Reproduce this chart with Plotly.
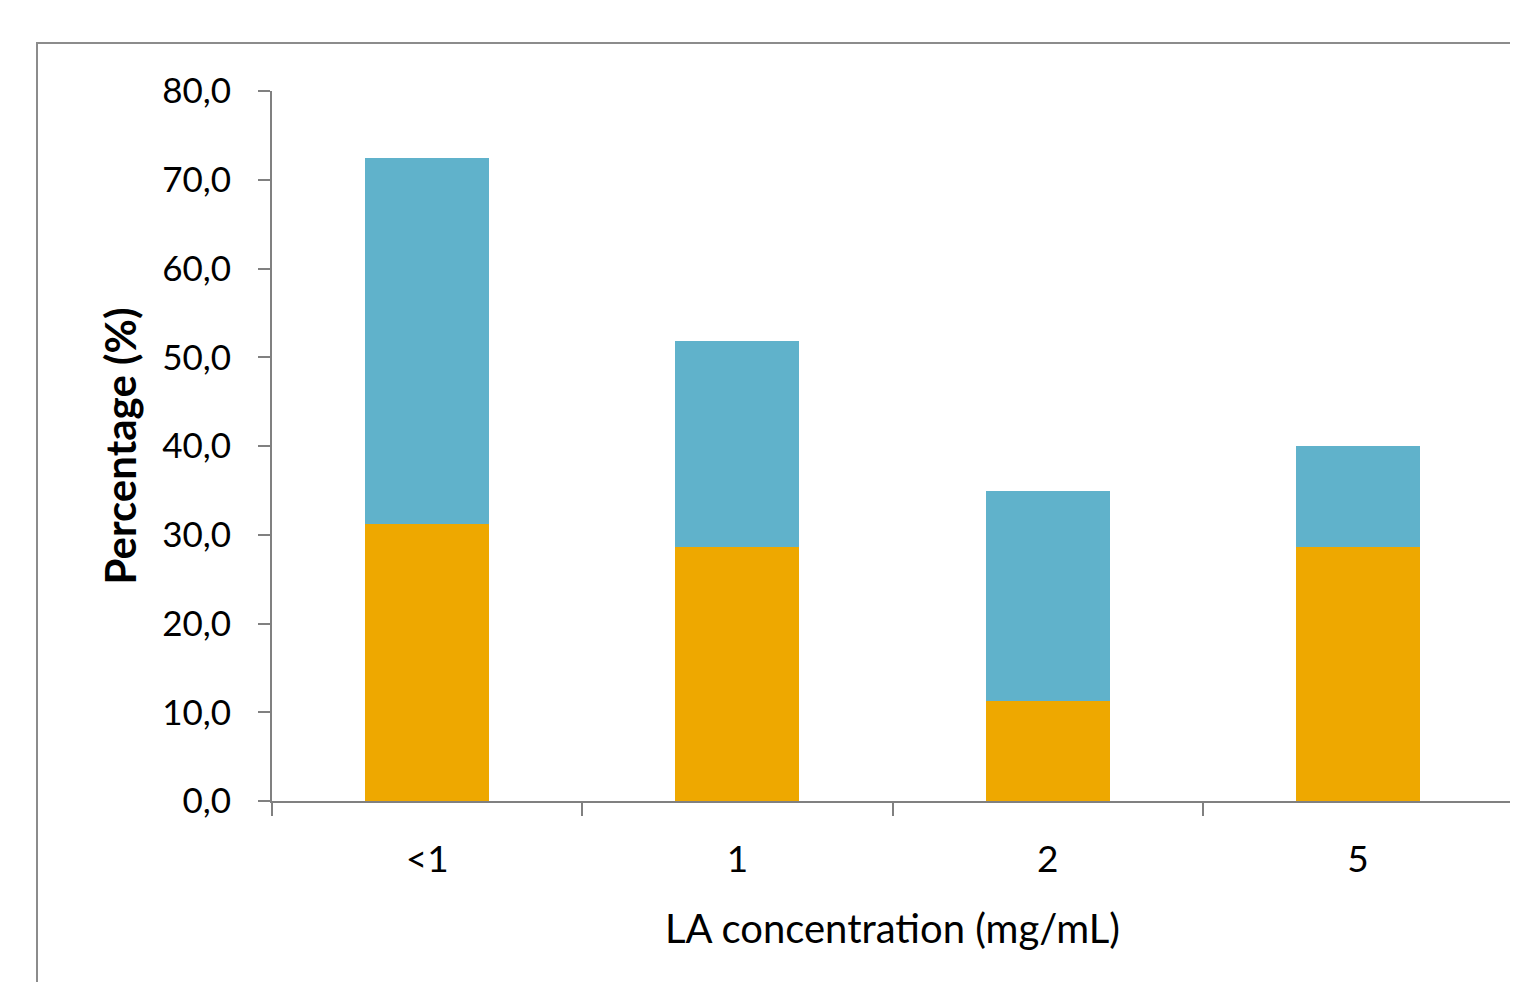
import plotly.graph_objects as go

categories = ["<1", "1", "2", "5"]
lower_values = [31.2, 28.6, 11.3, 28.6]   # orange segment
upper_values = [41.2, 23.2, 23.6, 11.4]   # blue segment (stacked on top)
y_ticks = [0, 10, 20, 30, 40, 50, 60, 70, 80]
y_tick_labels = ["0,0", "10,0", "20,0", "30,0", "40,0", "50,0", "60,0", "70,0", "80,0"]

ORANGE = "rgb(238,168,0)"
BLUE = "rgb(96,178,203)"
AXIS = "rgb(128,128,128)"
FONT = "Lato"

fig = go.Figure()
fig.add_trace(go.Bar(x=categories, y=lower_values, marker=dict(color=ORANGE, line=dict(width=0)),
                     showlegend=False))
fig.add_trace(go.Bar(x=categories, y=upper_values, marker=dict(color=BLUE, line=dict(width=0)),
                     showlegend=False))

OFF = 8  # page body margin
W, H = 1518 - OFF, 982 - OFF
L, R, T, B = 272 - OFF, 5, 91 - OFF, 181
pw, ph = W - L - R, H - T - B

fig.update_layout(
    width=W, height=H,
    barmode="stack", bargap=0.6,
    margin=dict(l=L, r=R, t=T, b=B, pad=0),
    paper_bgcolor="white", plot_bgcolor="white",
    font=dict(family=FONT, color="black", size=34),
    xaxis=dict(
        type="category", tickson="boundaries", ticks="outside", ticklen=13, tickwidth=2,
        tickcolor=AXIS, showline=True, linecolor=AXIS, linewidth=2, showgrid=False,
        tickfont=dict(size=37, family=FONT), ticklabelstandoff=25,
        title=dict(text="LA concentration (mg/mL)", font=dict(size=40, family=FONT), standoff=36),
    ),
    yaxis=dict(
        range=[0, 80], tickvals=y_ticks, ticktext=y_tick_labels, ticks="outside", ticklen=12,
        tickwidth=2, tickcolor=AXIS, showline=True, linecolor=AXIS, linewidth=2, showgrid=False,
        zeroline=False, tickfont=dict(size=35, family=FONT), ticklabelstandoff=20,
        title=dict(text="<b>Percentage (%)</b>", font=dict(size=42, family=FONT), standoff=12),
    ),
    shapes=[dict(
        type="rect", xref="paper", yref="paper",
        x0=(37 - OFF - L) / pw, x1=(W + 50 - L) / pw,
        y0=-(H + 50 - T - ph) / ph, y1=(H - B - (43 - OFF)) / ph,
        line=dict(color="rgb(140,140,140)", width=2), fillcolor="rgba(0,0,0,0)", layer="below",
    )],
)

fig.write_html("out.html")
